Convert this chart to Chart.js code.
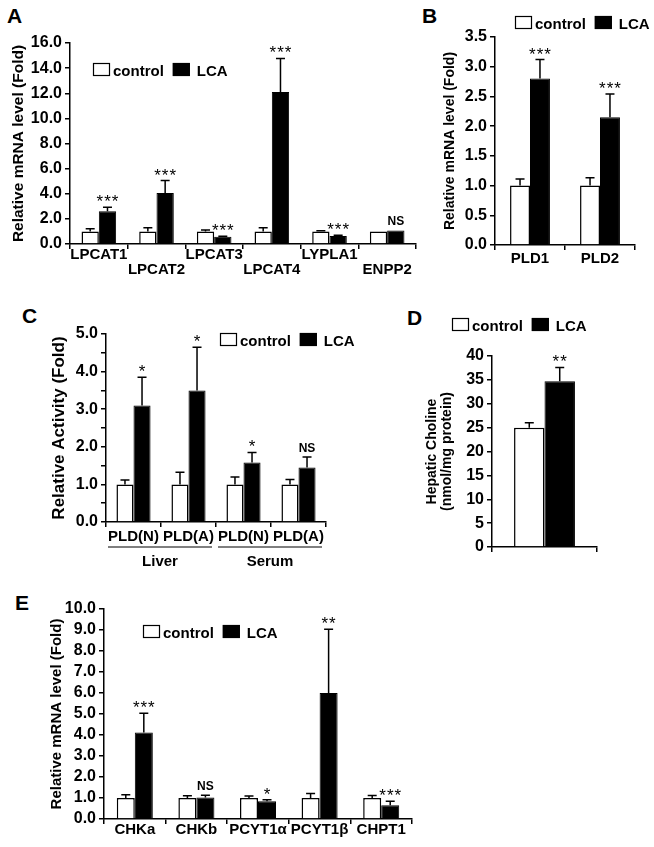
<!DOCTYPE html>
<html>
<head>
<meta charset="utf-8">
<script src="https://cdn.jsdelivr.net/npm/chart.js@4.4.0/dist/chart.umd.min.js"></script>
<style>
  body { margin: 0; background: #fff; }
  #fig { position: relative; width: 654px; height: 847px; overflow: hidden; font-family: "Liberation Sans", Arial, sans-serif; }
  #fig canvas { position: absolute; }
  .letter { position: absolute; font-weight: bold; font-size: 21px; line-height: 21px; }
</style>
</head>
<body>
<div id="fig">
  <div class="letter" style="left:7px;top:5px">A</div>
  <div class="letter" style="left:422px;top:5px">B</div>
  <div class="letter" style="left:22px;top:305px">C</div>
  <div class="letter" style="left:407px;top:307px">D</div>
  <div class="letter" style="left:15px;top:592px">E</div>
  <canvas id="chartA" width="425" height="285" style="left:0;top:0"></canvas>
  <canvas id="chartB" width="229" height="285" style="left:425px;top:0"></canvas>
  <canvas id="chartC" width="420" height="290" style="left:0;top:285px"></canvas>
  <canvas id="chartD" width="234" height="290" style="left:420px;top:285px"></canvas>
  <canvas id="chartE" width="430" height="272" style="left:0;top:575px"></canvas>
</div>
<script>
// A: remodeling genes (mRNA, fold)
var genesA = ['LPCAT1', 'LPCAT2', 'LPCAT3', 'LPCAT4', 'LYPLA1', 'ENPP2'];
var controlA = [1.0, 1.0, 1.0, 1.0, 1.0, 1.0];
var controlErrA = [0.22, 0.3, 0.12, 0.3, 0.05, 0];
var lcaA = [2.6, 4.05, 0.57, 12.1, 0.64, 1.08];
var lcaErrA = [0.33, 1.0, 0.05, 2.67, 0.05, 0];
var sigA = ['***', '***', '***', '***', '***', 'NS'];
var yTicksA = [0, 2, 4, 6, 8, 10, 12, 14, 16];

// B: PLD mRNA
var genesB = ['PLD1', 'PLD2'];
var controlB = [1.0, 1.0];
var controlErrB = [0.11, 0.13];
var lcaB = [2.8, 2.15];
var lcaErrB = [0.32, 0.39];
var sigB = ['***', '***'];
var yTicksB = [0, 0.5, 1, 1.5, 2, 2.5, 3, 3.5];

// C: PLD activity
var assaysC = ['PLD(N)', 'PLD(A)', 'PLD(N)', 'PLD(A)'];
var groupsC = ['Liver', 'Serum'];
var controlC = [1.0, 1.0, 1.0, 1.0];
var controlErrC = [0.12, 0.32, 0.2, 0.13];
var lcaC = [3.1, 3.5, 1.58, 1.45];
var lcaErrC = [0.75, 1.15, 0.27, 0.28];
var sigC = ['*', '*', '*', 'NS'];
var yTicksC = [0, 0.5, 1, 1.5, 2, 2.5, 3, 3.5, 4, 4.5, 5];

// D: hepatic choline
var controlD = [25.0];
var controlErrD = [1.0];
var lcaD = [34.7];
var lcaErrD = [2.9];
var sigD = ['**'];
var yTicksD = [0, 5, 10, 15, 20, 25, 30, 35, 40];

// E: choline pathway genes
var genesE = ['CHKa', 'CHKb', 'PCYT1\u03b1', 'PCYT1\u03b2', 'CHPT1'];
var controlE = [1.0, 1.0, 1.0, 1.0, 1.0];
var controlErrE = [0.16, 0.11, 0.1, 0.22, 0.12];
var lcaE = [4.12, 1.02, 0.84, 6.0, 0.65];
var lcaErrE = [0.92, 0.11, 0.08, 3.03, 0.2];
var sigE = ['***', 'NS', '*', '**', '***'];
var yTicksE = [0, 1, 2, 3, 4, 5, 6, 7, 8, 9, 10];

var FONT = '"Liberation Sans", Arial, sans-serif';
Chart.defaults.font.family = FONT;
Chart.defaults.color = '#000';

// error bars (plus side only) and significance marks over the LCA bar
var errorBars = {
    id: 'errorBars',
    afterDatasetsDraw: function (chart, args, opts) {
        var ctx = chart.ctx;
        var y = chart.scales.y;
        var tops = [];
        ctx.save();
        ctx.strokeStyle = '#000';
        ctx.lineWidth = 1.5;
        chart.data.datasets.forEach(function (ds, i) {
            chart.getDatasetMeta(i).data.forEach(function (bar, j) {
                var err = ds.errors[j] || 0;
                var top = y.getPixelForValue(ds.data[j] + err);
                if (i === 1) tops[j] = { x: bar.x, y: top };
                if (!err) return;
                ctx.beginPath();
                ctx.moveTo(bar.x, bar.y);
                ctx.lineTo(bar.x, top);
                ctx.moveTo(bar.x - 4.5, top);
                ctx.lineTo(bar.x + 4.5, top);
                ctx.stroke();
            });
        });
        ctx.textAlign = 'center';
        ctx.textBaseline = 'alphabetic';
        (opts.marks || []).forEach(function (m, j) {
            if (!m) return;
            if (m === 'NS') {
                ctx.letterSpacing = '0px';
                ctx.font = 'bold 12px ' + FONT;
                ctx.fillText(m, tops[j].x, tops[j].y - 5);
            } else {
                ctx.letterSpacing = '1px';
                ctx.font = '17px ' + FONT;
                ctx.fillText(m, tops[j].x + 0.5, tops[j].y);
            }
        });
        ctx.restore();
    }
};

// "[ ] control [#] LCA" legend
var boxLegend = {
    id: 'boxLegend',
    afterDraw: function (chart, args, opts) {
        var ctx = chart.ctx;
        var x = opts.x, y = opts.y;
        var gaps = [3, 7];
        ctx.save();
        ctx.font = 'bold 15px ' + FONT;
        ctx.textBaseline = 'alphabetic';
        chart.data.datasets.forEach(function (ds, i) {
            ctx.fillStyle = ds.backgroundColor;
            ctx.fillRect(x, y, 17, 13);
            ctx.strokeStyle = '#000';
            ctx.lineWidth = 1.2;
            ctx.strokeRect(x + 0.5, y + 0.5, 16, 12);
            x += 17 + gaps[i];
            ctx.fillStyle = '#000';
            ctx.fillText(ds.label, x, y + 13);
            x += ctx.measureText(ds.label).width + 9;
        });
        ctx.restore();
    }
};

// underlined group labels under panel C
var groupLabels = {
    id: 'groupLabels',
    afterDraw: function (chart, args, opts) {
        if (!opts.groups) return;
        var ctx = chart.ctx;
        var x = chart.scales.x;
        ctx.save();
        ctx.font = 'bold 15px ' + FONT;
        ctx.textAlign = 'center';
        ctx.textBaseline = 'middle';
        ctx.strokeStyle = '#000';
        ctx.lineWidth = 1.2;
        var half = (x.getPixelForValue(1) - x.getPixelForValue(0)) / 2;
        opts.groups.forEach(function (g, k) {
            var a = x.getPixelForValue(k * 2) - half + 2;
            var b = x.getPixelForValue(k * 2 + 1) + half - 4;
            ctx.beginPath();
            ctx.moveTo(a, opts.lineY);
            ctx.lineTo(b, opts.lineY);
            ctx.stroke();
            ctx.fillText(g, (a + b) / 2, opts.textY);
        });
        ctx.restore();
    }
};

function makeChart(id, p) {
    return new Chart(document.getElementById(id), {
        type: 'bar',
        data: {
            labels: p.labels,
            datasets: [{
                label: 'control',
                data: p.control,
                errors: p.controlErr,
                backgroundColor: '#ffffff',
                borderColor: '#000000',
                borderWidth: 1.5
            }, {
                label: 'LCA',
                data: p.lca,
                errors: p.lcaErr,
                backgroundColor: '#000000',
                borderColor: '#000000',
                borderWidth: 1
            }]
        },
        options: {
            responsive: false,
            animation: false,
            layout: { padding: p.padding },
            categoryPercentage: p.catPct,
            barPercentage: 1.0,
            plugins: {
                legend: { display: false },
                tooltip: { enabled: false },
                errorBars: { marks: p.marks },
                boxLegend: p.legend,
                groupLabels: p.groups || {}
            },
            scales: {
                x: {
                    grid: { display: true, offset: true, drawOnChartArea: false, drawTicks: true, tickLength: 5, color: '#000', lineWidth: 1.5 },
                    border: { display: true, color: '#000', width: 1.5 },
                    ticks: { autoSkip: false, maxRotation: 0, padding: p.xPad, font: { size: 15, weight: 'bold', lineHeight: 1.0 } },
                    afterFit: function (s) { s.height = p.xHeight; }
                },
                y: {
                    min: 0,
                    max: p.yTicks[p.yTicks.length - 1],
                    grid: { display: true, drawOnChartArea: false, drawTicks: true, tickLength: 5, color: '#000', lineWidth: 1.5 },
                    border: { display: true, color: '#000', width: 1.5 },
                    ticks: { autoSkip: false, padding: 3, font: { size: 16, weight: 'bold' }, callback: p.tickFmt },
                    afterBuildTicks: function (s) {
                        s.ticks = p.yTicks.map(function (v) { return { value: v }; });
                    },
                    afterFit: function (s) { s.width = p.yWidth; },
                    title: { display: true, text: p.title, padding: 0, font: { size: p.titleSize, weight: 'bold', lineHeight: 1.1 } }
                }
            }
        },
        plugins: [errorBars, boxLegend, groupLabels]
    });
}

function oneDecimal(v) { return Number(v).toFixed(1); }

makeChart('chartA', {
    labels: genesA.map(function (g, i) { return i % 2 ? ['', g] : [g]; }),
    control: controlA, controlErr: controlErrA, lca: lcaA, lcaErr: lcaErrA,
    marks: sigA, yTicks: yTicksA, tickFmt: oneDecimal,
    title: 'Relative mRNA level (Fold)', titleSize: 15.5,
    padding: { left: 10, top: 43, right: 9, bottom: 0 },
    yWidth: 60, xHeight: 41, xPad: -2, catPct: 0.6,
    legend: { x: 93, y: 63 }
});

makeChart('chartB', {
    labels: genesB,
    control: controlB, controlErr: controlErrB, lca: lcaB, lcaErr: lcaErrB,
    marks: sigB, yTicks: yTicksB, tickFmt: oneDecimal,
    title: 'Relative mRNA level (Fold)', titleSize: 14,
    padding: { left: 17, top: 37, right: 19, bottom: 0 },
    yWidth: 53, xHeight: 40, xPad: 1, catPct: 0.57,
    legend: { x: 90, y: 16 }
});

makeChart('chartC', {
    labels: assaysC,
    control: controlC, controlErr: controlErrC, lca: lcaC, lcaErr: lcaErrC,
    marks: sigC, yTicks: yTicksC,
    tickFmt: function (v) { return v % 1 === 0 ? Number(v).toFixed(1) : ''; },
    title: 'Relative Activity (Fold)', titleSize: 17,
    padding: { left: 50, top: 49, right: 94, bottom: 0 },
    yWidth: 56, xHeight: 53, xPad: 2, catPct: 0.62,
    legend: { x: 220, y: 48 },
    groups: { groups: groupsC, lineY: 262, textY: 277 }
});

makeChart('chartD', {
    labels: [''],
    control: controlD, controlErr: controlErrD, lca: lcaD, lcaErr: lcaErrD,
    marks: sigD, yTicks: yTicksD,
    tickFmt: function (v) { return String(v); },
    title: ['Hepatic Choline', '(nmol/mg protein)'], titleSize: 14,
    padding: { left: 4, top: 71, right: 57, bottom: 0 },
    yWidth: 68, xHeight: 28, xPad: 0, catPct: 0.58,
    legend: { x: 32, y: 33 }
});

makeChart('chartE', {
    labels: genesE,
    control: controlE, controlErr: controlErrE, lca: lcaE, lcaErr: lcaErrE,
    marks: sigE, yTicks: yTicksE, tickFmt: oneDecimal,
    title: 'Relative mRNA level (Fold)', titleSize: 15,
    padding: { left: 49, top: 34, right: 18, bottom: 0 },
    yWidth: 55, xHeight: 28, xPad: -2, catPct: 0.585,
    legend: { x: 143, y: 50 }
});
</script>
</body>
</html>
